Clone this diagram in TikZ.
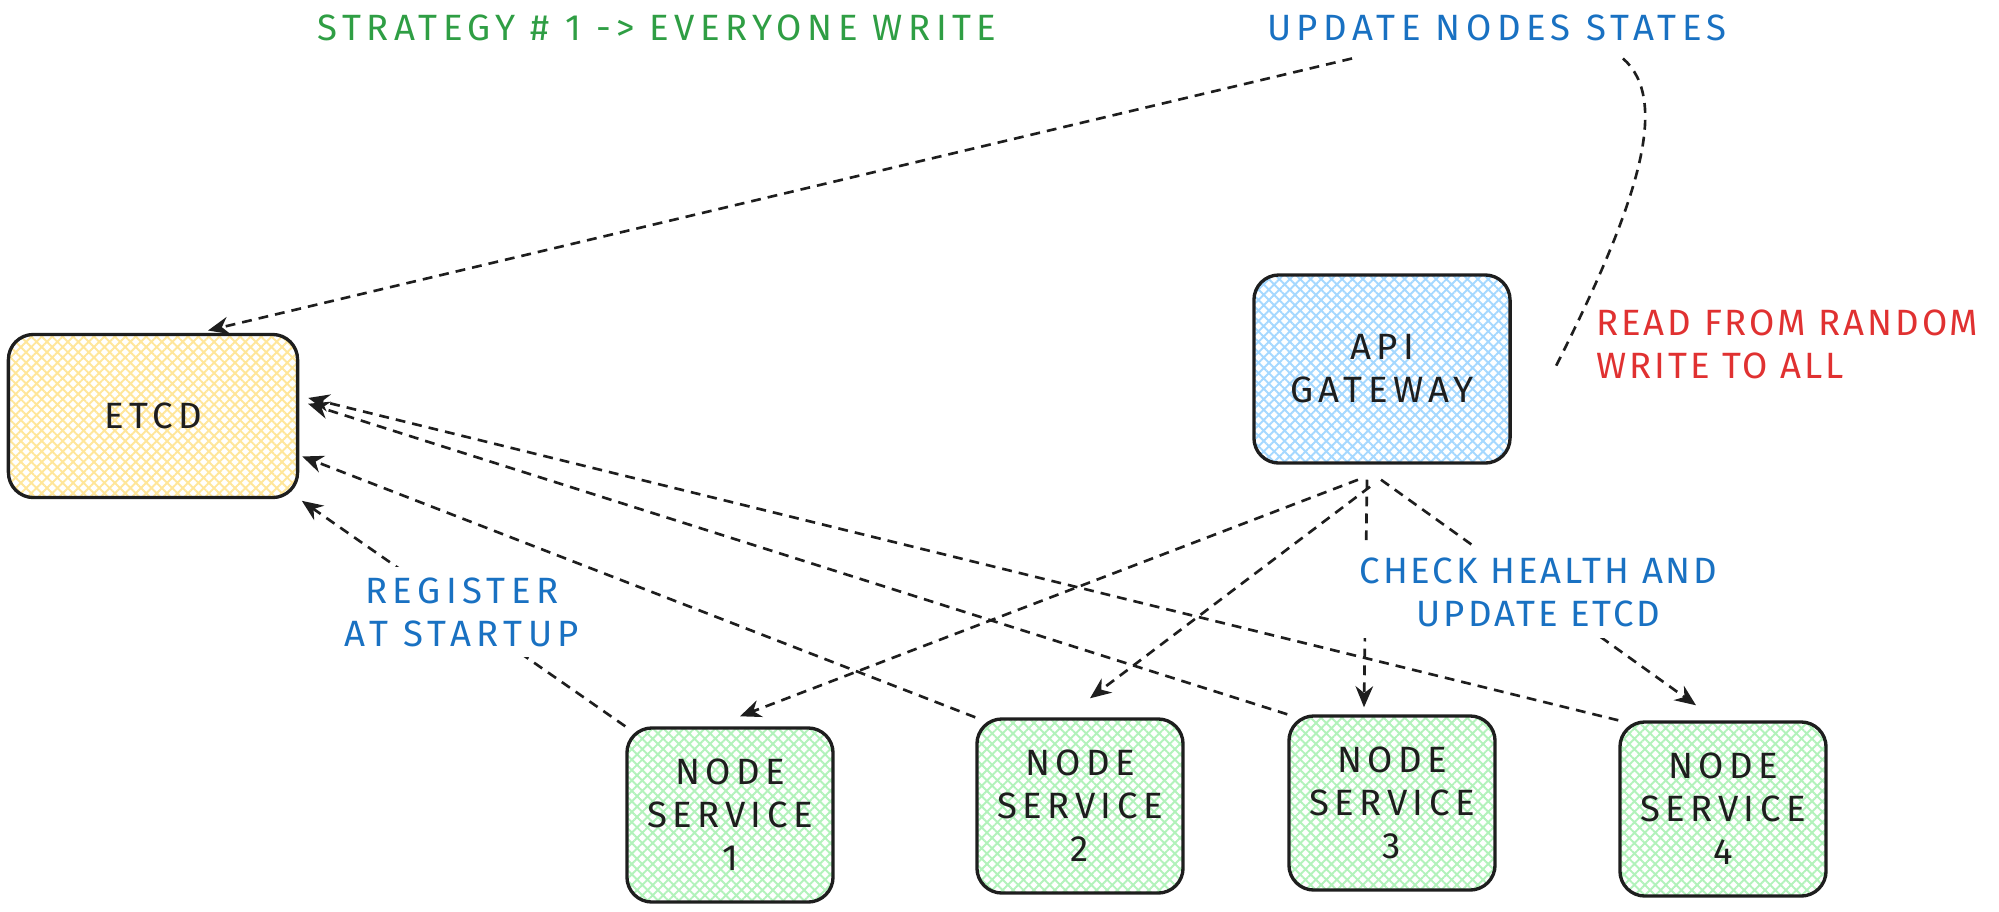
\documentclass[tikz,border=0pt]{standalone}
\usepackage{fontspec}
\newfontfamily\hand[LetterSpace=15]{Fira Sans}
\newfontfamily\handnarrow[LetterSpace=8]{Fira Sans}
\usetikzlibrary{arrows.meta,calc,patterns.meta}
\definecolor{ink}{HTML}{1E1E1E}
\definecolor{etcdfill}{HTML}{FFE69A}
\definecolor{apifill}{HTML}{A5D8FF}
\definecolor{nodefill}{HTML}{B2F2BB}
\definecolor{txtgreen}{HTML}{2F9E44}
\definecolor{txtblue}{HTML}{1971C2}
\definecolor{txtred}{HTML}{E03131}

\begin{document}
\begin{tikzpicture}[
        x=0.01cm, y=-0.01cm,
        box/.style={
            draw=ink, line width=0.95pt,
            rounded corners=0.25cm, inner sep=0pt,
            align=center, text=ink,
            font=\hand\fontsize{10.4}{12.2}\selectfont
        },
        hatch/.style={pattern={Hatch[angle=45,distance=2.1pt,line width=0.55pt]}, pattern color=#1},
        nodebox/.style={box, hatch=nodefill, minimum width=2.06cm, minimum height=1.74cm},
        arr/.style={draw=ink, line width=0.75pt, dash pattern=on 2.8pt off 2pt,
            -{Stealth[length=6pt,width=5pt]}},
        dashln/.style={draw=ink, line width=0.75pt, dash pattern=on 2.8pt off 2pt},
        lbl/.style={font=\hand\fontsize{10.4}{12.2}\selectfont, text=#1, align=center},
        onarr/.style={lbl=txtblue, fill=white, inner sep=3pt}
      ]
  \useasboundingbox (0,0) rectangle (1999,911);

  % boxes
  \node[box, hatch=etcdfill, minimum width=2.89cm, minimum height=1.63cm] (etcd) at (153,416) {ETCD};
  \node[box, hatch=apifill, minimum width=2.56cm, minimum height=1.88cm] (api) at (1382,369) {API\\GATEWAY};
  \node[nodebox] (ns1) at (730,815) {NODE\\SERVICE\\1};
  \node[nodebox] (ns2) at (1080,806) {NODE\\SERVICE\\2};
  \node[nodebox] (ns3) at (1392,803) {NODE\\SERVICE\\3};
  \node[nodebox] (ns4) at (1723,809) {NODE\\SERVICE\\4};

  % free texts
  \node[lbl=txtgreen] (title) at (657,28) {STRATEGY \# 1 -> EVERYONE WRITE};
  \node[lbl=txtblue] (upd) at (1497,28) {UPDATE NODES STATES};
  \node[lbl=txtred, font=\handnarrow\fontsize{10.4}{12.2}\selectfont, align=left, anchor=west] (rule) at (1584,344) {READ FROM RANDOM\\WRITE TO ALL};
  \coordinate (curveend) at (1556,366);

  % update nodes states
  \draw[arr] ($(upd.south)+(-145,5)$) -- ($(etcd.north)+(55,-3)$);
  \draw[dashln] ($(upd.south)+(126,5)$) .. controls (1670,100) and (1640,200) .. (curveend);

  % everyone writes to etcd
  \draw[arr, shorten >=0.04cm] (ns1.north west) -- node[onarr] (reg) {REGISTER\\AT STARTUP} (etcd.south east);
  \draw[arr, shorten >=0.04cm] (ns2.north west) -- (etcd.-15);
  \draw[arr, shorten >=0.1cm] (ns3.north west) -- (etcd.6);
  \draw[arr, shorten >=0.1cm] (ns4.north west) -- (etcd.8);

  % gateway checks the nodes
  \draw[arr] ($(api.south)+(-24,15)$) -- ($(ns1.north)+(10,-10)$);
  \draw[arr] ($(api.south)+(-12,22)$) -- ($(ns2.north)+(10,-19)$);
  \draw[arr] ($(api.south)+(-15,15)$) -- ($(ns3.north)+(-28,-7)$);
  \draw[arr] ($(api.south)+(-1,15)$) -- node[onarr, font=\handnarrow\fontsize{10.4}{12.2}\selectfont] (chk) {CHECK HEALTH AND\\UPDATE ETCD} ($(ns4.north)+(-27,-15)$);
\end{tikzpicture}
\end{document}
